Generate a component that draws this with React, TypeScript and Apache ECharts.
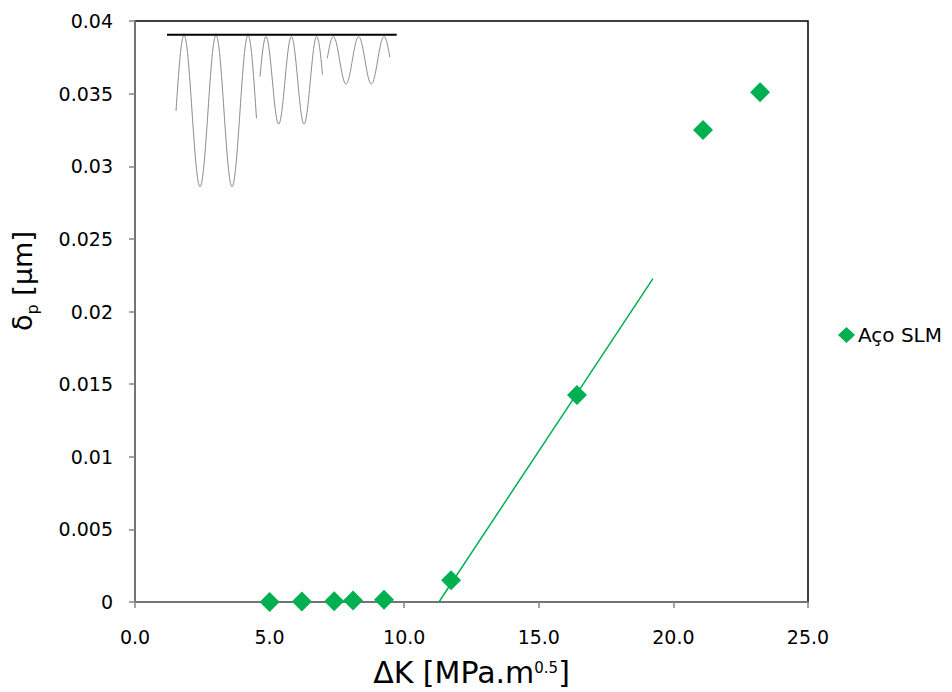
import React, { useEffect, useRef } from "react";
import * as echarts from "echarts";

// Data
const seriesName = "Aço SLM";
const deltaK = [5.0, 6.2, 7.4, 8.1, 9.25, 11.74, 16.42, 21.1, 23.22];
const deltaP = [0.0, 0.00003, 0.00005, 0.0001, 0.00015, 0.0015, 0.01425, 0.0325, 0.0351];
const trendX = [11.29, 19.24];
const trendY = [0.0, 0.02226];
const xTicks = [0, 5, 10, 15, 20, 25];
const yTicks = [0, 0.005, 0.01, 0.015, 0.02, 0.025, 0.03, 0.035, 0.04];

const GREEN = "#00B050";
const FONT = "DejaVu Sans";

// decorative inset waveform (cyclic loading sketch)
function wave(x0: number, x1: number, peak: number, period: number, mid: number, amp: number) {
  const pts: number[][] = [];
  for (let x = x0; x <= x1 + 0.001; x += 0.5) {
    pts.push([x, mid - amp * Math.cos((2 * Math.PI * (x - peak)) / period)]);
  }
  return pts;
}

export default function App() {
  const ref = useRef<HTMLDivElement>(null);
  useEffect(() => {
    document.body.style.margin = "0";
    const chart = echarts.init(ref.current!, null, { renderer: "svg" });
    const scatterData = deltaK.map((x, i) => [x, deltaP[i]]);
    const trendData = trendX.map((x, i) => [x, trendY[i]]);
    const axisGray = "#868686";
    chart.setOption({
      animation: false,
      backgroundColor: "#fff",
      textStyle: { fontFamily: FONT },
      grid: {
        left: 135,
        right: 144,
        top: 21,
        bottom: 87,
        show: true,
        borderColor: "#000",
        borderWidth: 1.5,
      },
      legend: {
        data: [{ name: seriesName, icon: "diamond", itemStyle: { opacity: 1 } }],
        left: 838,
        top: 325,
        padding: 0,
        itemWidth: 17,
        itemHeight: 16,
        itemGap: 4,
        textStyle: { fontFamily: FONT, fontSize: 20, color: "#000", padding: [0, 0, 0, -2] },
      },
      xAxis: {
        type: "value",
        min: xTicks[0],
        max: xTicks[xTicks.length - 1],
        interval: xTicks[1] - xTicks[0],
        splitLine: { show: false },
        axisLine: { lineStyle: { color: axisGray, width: 1.5 } },
        axisTick: { show: true, inside: false, length: 6, lineStyle: { color: axisGray, width: 1.5 } },
        axisLabel: {
          fontFamily: FONT,
          fontSize: 19,
          color: "#000",
          margin: 25,
          formatter: (v: number) => v.toFixed(1),
        },
        name: "{a|ΔK [MPa.m}{sup|0.5}{a|]}",
        nameLocation: "middle",
        nameGap: 52,
        nameTextStyle: {
          rich: {
            a: { fontFamily: FONT, fontSize: 30, color: "#000", lineHeight: 36, verticalAlign: "middle" },
            sup: {
              fontFamily: FONT,
              fontSize: 15,
              color: "#000",
              lineHeight: 15,
              verticalAlign: "middle",
              padding: [0, 0, 9, 0],
            },
          },
        },
      },
      yAxis: {
        type: "value",
        min: yTicks[0],
        max: yTicks[yTicks.length - 1],
        interval: yTicks[1] - yTicks[0],
        splitLine: { show: false },
        axisLine: { show: true, lineStyle: { color: axisGray, width: 1.5 } },
        axisTick: { show: true, inside: false, length: 6, lineStyle: { color: axisGray, width: 1.5 } },
        axisLabel: {
          fontFamily: FONT,
          fontSize: 19,
          color: "#000",
          margin: 22,
          formatter: (v: number) => String(+v.toFixed(4)),
        },
      },
      series: [
        {
          name: "trend",
          type: "line",
          data: trendData,
          showSymbol: false,
          symbol: "none",
          lineStyle: { color: GREEN, width: 1.5 },
          itemStyle: { color: GREEN },
          z: 2,
        },
        {
          name: seriesName,
          type: "scatter",
          data: scatterData,
          symbol: "diamond",
          symbolSize: 20,
          itemStyle: { color: GREEN, opacity: 1 },
          z: 3,
        },
      ],
      graphic: [
        {
          type: "text",
          x: 22,
          y: 281,
          rotation: Math.PI / 2,
          style: {
            text: "{a|δ}{sub|p}{a| [µm]}",
            align: "center",
            verticalAlign: "middle",
            rich: {
              a: { fontFamily: FONT, fontSize: 27, fill: "#000", lineHeight: 36, verticalAlign: "middle" },
              sub: { fontFamily: FONT, fontSize: 16, fill: "#000", lineHeight: 18, verticalAlign: "bottom" },
            },
          },
        },
        {
          type: "polyline",
          shape: { points: wave(176, 256.7, 184, 32, 111, 75.7) },
          style: { stroke: "#8c8c8c", lineWidth: 1, fill: "none" },
          silent: true,
        },
        {
          type: "polyline",
          shape: { points: wave(260, 322.7, 266, 25.35, 80.3, 43.7) },
          style: { stroke: "#8c8c8c", lineWidth: 1, fill: "none" },
          silent: true,
        },
        {
          type: "polyline",
          shape: { points: wave(327.3, 390, 333.3, 25.35, 60.3, 23.7) },
          style: { stroke: "#8c8c8c", lineWidth: 1, fill: "none" },
          silent: true,
        },
        {
          type: "line",
          shape: { x1: 167, y1: 34.7, x2: 396.7, y2: 34.7 },
          style: { stroke: "#000", lineWidth: 2 },
          silent: true,
        },
      ],
    });
    return () => chart.dispose();
  }, []);
  return <div ref={ref} style={{ width: 952, height: 692 }} />;
}
